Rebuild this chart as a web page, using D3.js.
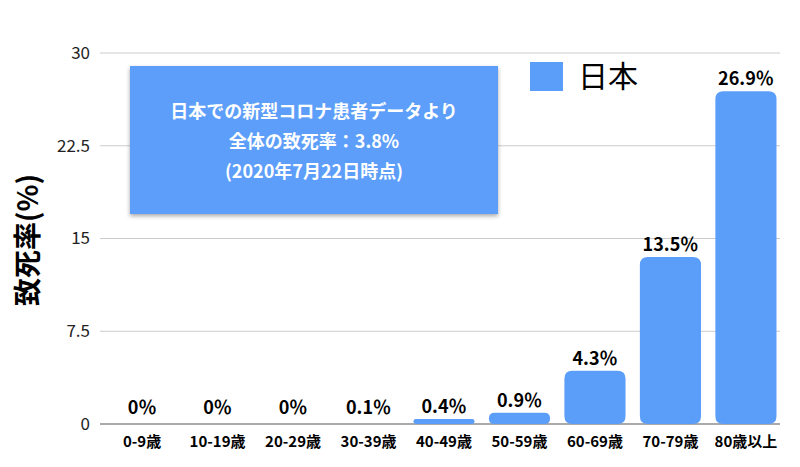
<!DOCTYPE html>
<html><head><meta charset="utf-8">
<script src="https://cdn.jsdelivr.net/npm/d3@7"></script>
<style>body{margin:0;background:#fff}svg{font-family:"Noto Sans CJK JP",sans-serif}</style>
</head><body><svg id="c" width="800" height="467"></svg>
<script>
var categories = ['0-9歳','10-19歳','20-29歳','30-39歳','40-49歳','50-59歳','60-69歳','70-79歳','80歳以上'];
var values = [0, 0, 0, 0.1, 0.4, 0.9, 4.3, 13.5, 26.9];
var valueLabels = ['0％','0％','0％','0.1％','0.4％','0.9％','4.3％','13.5％','26.9％'];
var yTicks = [0, 7.5, 15, 22.5, 30];

var BLUE = '#5b9ef9';
var svg = d3.select('#c');
var x = d3.scaleBand().domain(categories).range([110, 778]).paddingInner(0.19).paddingOuter(0.02);
var y = d3.scaleLinear().domain([0, 30]).range([424, 53]);

// grid
svg.selectAll('.grid').data(yTicks).enter().append('line')
    .attr('x1', 100).attr('x2', 780)
    .attr('y1', function(d){ return y(d); }).attr('y2', function(d){ return y(d); })
    .attr('stroke', function(d){ return d === 0 ? '#555' : '#ccc'; })
    .attr('stroke-width', 1);

svg.selectAll('.yt').data(yTicks).enter().append('text')
    .attr('x', 90).attr('y', function(d){ return y(d); }).attr('dy', '0.35em')
    .attr('text-anchor', 'end').attr('font-size', 17).attr('fill', '#222')
    .text(function(d){ return d; });

svg.append('text').attr('transform', 'translate(38,240) rotate(-90)')
    .attr('text-anchor', 'middle').attr('font-size', 28).attr('font-weight', 'bold')
    .text('致死率(%)');

// bars (rounded)
var r = 8;
svg.selectAll('.bar').data(values).enter().append('path')
    .attr('fill', BLUE)
    .attr('d', function(d, i){
        var x0 = x(categories[i]), w = x.bandwidth(), h = y(0) - y(d);
        if (h < 2) return '';
        var top = y(0) - h;
        var rr = Math.min(r, h / 2);
        return 'M' + x0 + ',' + (top + rr) + 'Q' + x0 + ',' + top + ' ' + (x0 + rr) + ',' + top +
            'H' + (x0 + w - rr) + 'Q' + (x0 + w) + ',' + top + ' ' + (x0 + w) + ',' + (top + rr) +
            'V' + (y(0) - rr) + 'Q' + (x0 + w) + ',' + y(0) + ' ' + (x0 + w - rr) + ',' + y(0) +
            'H' + (x0 + rr) + 'Q' + x0 + ',' + y(0) + ' ' + x0 + ',' + (y(0) - rr) + 'Z';
    });

svg.selectAll('.vl').data(values).enter().append('text')
    .attr('x', function(d, i){ return x(categories[i]) + x.bandwidth() / 2; })
    .attr('y', function(d){ return Math.min(y(d), y(0) - 4) - 6; })
    .attr('text-anchor', 'middle').attr('font-size', 18).attr('font-weight', 'bold')
    .text(function(d, i){ return valueLabels[i]; });

svg.selectAll('.xl').data(categories).enter().append('text')
    .attr('x', function(d){ return x(d) + x.bandwidth() / 2; }).attr('y', 447)
    .attr('text-anchor', 'middle').attr('font-size', 15).attr('font-weight', 'bold')
    .text(function(d){ return d; });

// legend
svg.append('rect').attr('x', 530).attr('y', 62).attr('width', 33).attr('height', 29).attr('fill', BLUE);
svg.append('text').attr('x', 578).attr('y', 87).attr('font-size', 30).text('日本');

// note box
var defs = svg.append('defs');
var f = defs.append('filter').attr('id', 'sh').attr('x', '-10%').attr('y', '-10%').attr('width', '120%').attr('height', '130%');
f.append('feDropShadow').attr('dx', 0).attr('dy', 2).attr('stdDeviation', 2).attr('flood-opacity', 0.35);
svg.append('rect').attr('x', 130).attr('y', 66).attr('width', 368).attr('height', 148)
    .attr('fill', BLUE).attr('filter', 'url(#sh)');
var note = ['日本での新型コロナ患者データより', '全体の致死率：3.8%', '(2020年7月22日時点)'];
svg.selectAll('.nt').data(note).enter().append('text')
    .attr('x', 314).attr('y', function(d, i){ return 118 + i * 30; })
    .attr('text-anchor', 'middle').attr('font-size', 18).attr('font-weight', 'bold').attr('fill', '#fff')
    .text(function(d){ return d; });
</script></body></html>
